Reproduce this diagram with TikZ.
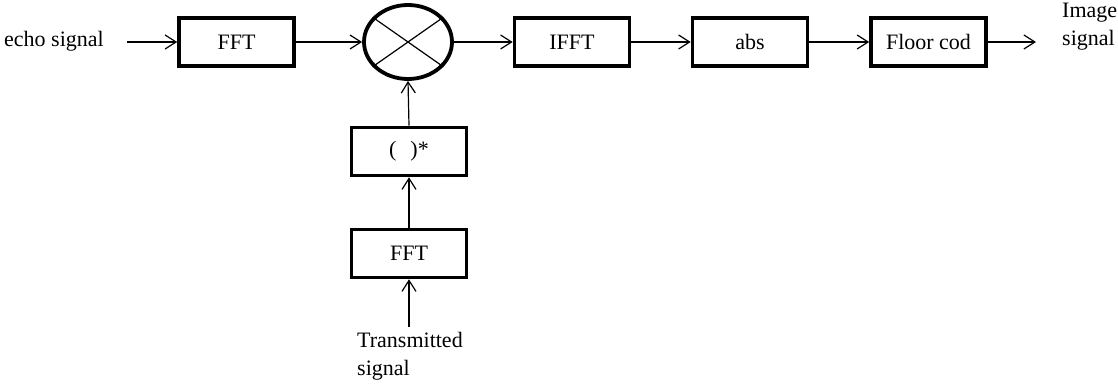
\documentclass[tikz,border=0pt]{standalone}
\usepackage{fontspec}
\setmainfont{Liberation Serif}
\usetikzlibrary{arrows.meta,shapes.geometric}
\begin{document}
\begin{tikzpicture}[x=1pt,y=-1pt,
  font=\fontsize{22}{28}\selectfont,
  block/.style={draw,line width=3.6pt,rectangle,inner sep=0pt,
    minimum width=115pt,minimum height=48pt},
  link/.style={line width=1.2pt,-{Straight Barb[length=11pt,width=14pt,line width=1.2pt]}},
  lbl/.style={inner sep=0pt,align=left}]
\useasboundingbox (0,0) rectangle (1118,387);
% top signal chain
\node[lbl,anchor=west] (echo) at (4,41) {echo signal};
\coordinate (ein) at (127,42);
\node[block] (fft1) at (236.5,42) {FFT};
\node[draw,ellipse,line width=3.8pt,inner sep=0pt,minimum width=88pt,minimum height=74pt] (mix) at (408,42) {};
\node[block] (ifft) at (572,42) {IFFT};
\node[block] (abs) at (750,42) {abs};
\node[block] (floor) at (928.5,42) {Floor cod};
\coordinate (out) at (1036,42);
\node[lbl,anchor=north west] (img) at (1062,3) {Image\\signal};
% cross inside the multiplier
\draw[line width=1.2pt] (mix.145) -- (mix.-35);
\draw[line width=1.2pt] (mix.215) -- (mix.35);
% reference branch
\node[block] (conj) at (409,151.5) {(\hspace{14pt})*};
\node[block] (fft2) at (409,253.5) {FFT};
\coordinate (tin) at (409,327);
\node[lbl,anchor=north west] (tx) at (357,332) {Transmitted\\signal};
% connectors
\draw[link] (ein) -- (fft1.west);
\draw[link] (fft1.east) -- (mix.west);
\draw[link] (mix.east) -- (ifft.west);
\draw[link] (ifft.east) -- (abs.west);
\draw[link] (abs.east) -- (floor.west);
\draw[link] (floor.east) -- (out);
\draw[link] (tin) -- (fft2.south);
\draw[link] (fft2.north) -- (conj.south);
\draw[link] (conj.north) -- (mix.south);
\end{tikzpicture}
\end{document}
